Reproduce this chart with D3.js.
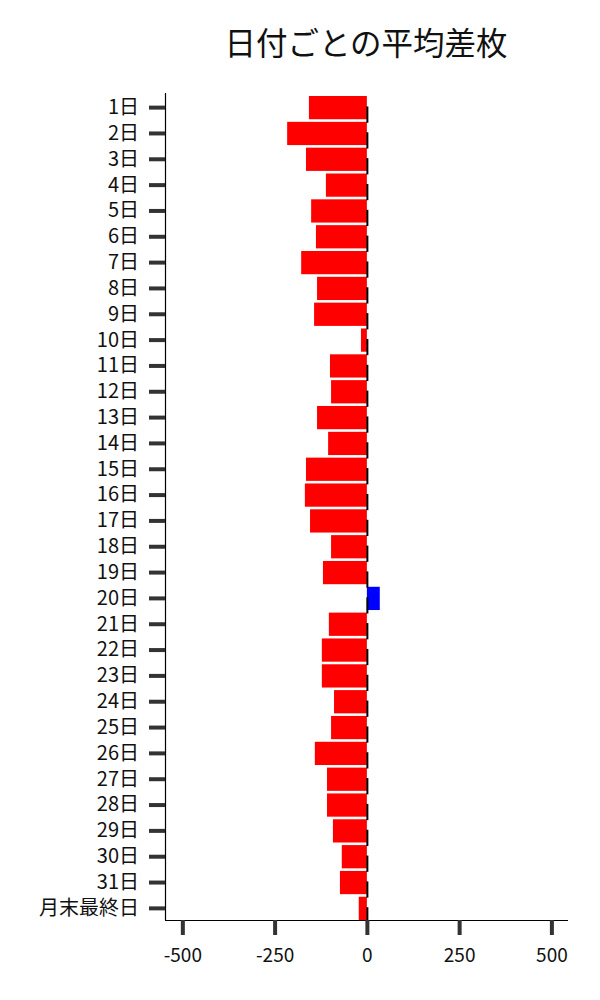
<!DOCTYPE html>
<html>
<head>
<meta charset="utf-8">
<script src="https://cdn.jsdelivr.net/npm/d3@7"></script>
<style>
  body { margin: 0; background: #fff; }
  svg { font-family: "Noto Sans CJK JP", "Noto Sans", sans-serif; }
</style>
</head>
<body>
<div id="chart"></div>
<script>
// categories (days of month)
const days = ["1日","2日","3日","4日","5日","6日","7日","8日","9日","10日",
              "11日","12日","13日","14日","15日","16日","17日","18日","19日","20日",
              "21日","22日","23日","24日","25日","26日","27日","28日","29日","30日",
              "31日","月末最終日"];

// average difference per day
const avgDiff = [-157, -216, -165, -111, -151, -138, -178, -135, -143, -16,
                 -100, -97, -135, -105, -165, -168, -154, -97, -119, 35,
                 -103, -122, -122, -89, -97, -141, -108, -108, -92, -68,
                 -73, -22];

const xTicks = [-500, -250, 0, 250, 500];

const width = 600, height = 1000;
const margin = { top: 96, right: 32, bottom: 80, left: 165 };

const svg = d3.select("#chart").append("svg")
    .attr("width", width)
    .attr("height", height);

// scales
const x = d3.scaleLinear()
    .domain([-547, 545])
    .range([margin.left, width - margin.right]);

const y = d3.scaleBand()
    .domain(days)
    .range([margin.top, height - margin.bottom])
    .paddingInner(0.1)
    .paddingOuter(0.0);

// title
svg.append("text")
    .attr("x", 366)
    .attr("y", 55)
    .attr("text-anchor", "middle")
    .style("font-size", "31.5px")
    .attr("fill", "#111")
    .text("日付ごとの平均差枚");

// bars
svg.append("g")
    .selectAll("rect")
    .data(days)
    .join("rect")
    .attr("x", (d, i) => x(Math.min(0, avgDiff[i])))
    .attr("width", (d, i) => Math.abs(x(avgDiff[i]) - x(0)))
    .attr("y", d => y(d))
    .attr("height", y.bandwidth())
    .attr("fill", (d, i) => avgDiff[i] >= 0 ? "#0000ff" : "#ff0000");

// short black marks at zero
svg.append("g")
    .selectAll("line")
    .data(days)
    .join("line")
    .attr("x1", x(0) + 0.5)
    .attr("x2", x(0) + 0.5)
    .attr("y1", d => y(d) + y.bandwidth() * 0.45)
    .attr("y2", d => y(d) + y.bandwidth() * 1.15)
    .attr("stroke", "#000")
    .attr("stroke-width", 2);

// y axis
const yAxis = svg.append("g")
    .attr("transform", `translate(${margin.left},0)`)
    .call(d3.axisLeft(y).tickSize(16).tickPadding(10));
yAxis.select(".domain").attr("stroke", "#000").attr("stroke-width", 1.2)
    .attr("d", `M0.5,${margin.top - 3}V${height - margin.bottom}`);
yAxis.selectAll(".tick line").attr("stroke", "#333").attr("stroke-width", 4);
yAxis.selectAll(".tick text").style("font-size", "20px").attr("fill", "#111")
    .attr("font-family", "Noto Sans CJK JP");

// x axis
const xAxis = svg.append("g")
    .attr("transform", `translate(0,${height - margin.bottom})`)
    .call(d3.axisBottom(x).tickValues(xTicks).tickSize(15).tickPadding(14).tickFormat(d => String(d)));
xAxis.select(".domain").attr("stroke", "#000").attr("stroke-width", 1.2)
    .attr("d", `M${margin.left},0.5H${width - margin.right}`);
xAxis.selectAll(".tick line").attr("stroke", "#333").attr("stroke-width", 4);
xAxis.selectAll(".tick text").style("font-size", "19px").attr("fill", "#111")
    .attr("font-family", "Noto Sans CJK JP");
</script>
</body>
</html>
